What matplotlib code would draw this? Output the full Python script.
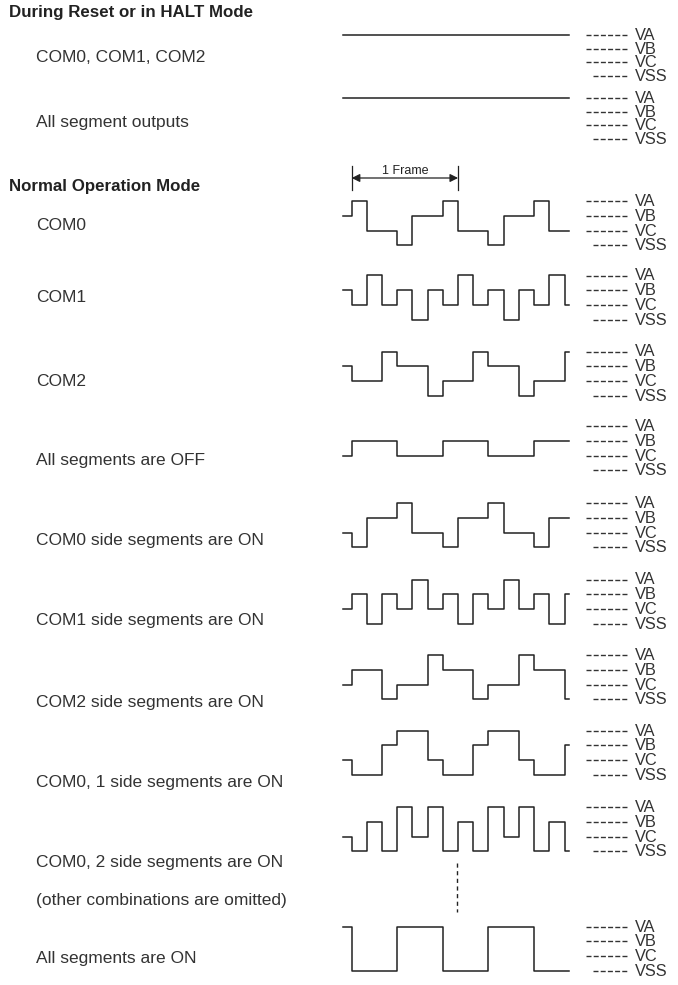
import matplotlib
matplotlib.use("Agg")
import matplotlib.pyplot as plt

plt.rcParams['font.family'] = ['Liberation Sans', 'DejaVu Sans']

# level names, lowest first
levels = ['VSS', 'VC', 'VB', 'VA']

# row captions on the left
reset_title = 'During Reset or in HALT Mode'
normal_title = 'Normal Operation Mode'
reset_labels = ['COM0, COM1, COM2', 'All segment outputs']
reset_levels = ['VA', 'VA']
row_labels = [
    'COM0', 'COM1', 'COM2', 'All segments are OFF',
    'COM0 side segments are ON', 'COM1 side segments are ON',
    'COM2 side segments are ON', 'COM0, 1 side segments are ON',
    'COM0, 2 side segments are ON', 'All segments are ON',
]
omitted_label = '(other combinations are omitted)'
frame_label = '1 Frame'

# level before slot 0, then the level in each time slot
lead = ['VB', 'VB', 'VB', 'VC', 'VC', 'VC', 'VC', 'VC', 'VC', 'VA']
slots = [
    ['VA', 'VC', 'VC', 'VSS', 'VB', 'VB', 'VA', 'VC', 'VC', 'VSS', 'VB', 'VB', 'VA', 'VC', 'VC'],
    ['VC', 'VA', 'VC', 'VB', 'VSS', 'VB', 'VC', 'VA', 'VC', 'VB', 'VSS', 'VB', 'VC', 'VA', 'VC'],
    ['VC', 'VC', 'VA', 'VB', 'VB', 'VSS', 'VC', 'VC', 'VA', 'VB', 'VB', 'VSS', 'VC', 'VC', 'VA'],
    ['VB', 'VB', 'VB', 'VC', 'VC', 'VC', 'VB', 'VB', 'VB', 'VC', 'VC', 'VC', 'VB', 'VB', 'VB'],
    ['VSS', 'VB', 'VB', 'VA', 'VC', 'VC', 'VSS', 'VB', 'VB', 'VA', 'VC', 'VC', 'VSS', 'VB', 'VB'],
    ['VB', 'VSS', 'VB', 'VC', 'VA', 'VC', 'VB', 'VSS', 'VB', 'VC', 'VA', 'VC', 'VB', 'VSS', 'VB'],
    ['VB', 'VB', 'VSS', 'VC', 'VC', 'VA', 'VB', 'VB', 'VSS', 'VC', 'VC', 'VA', 'VB', 'VB', 'VSS'],
    ['VSS', 'VSS', 'VB', 'VA', 'VA', 'VC', 'VSS', 'VSS', 'VB', 'VA', 'VA', 'VC', 'VSS', 'VSS', 'VB'],
    ['VSS', 'VB', 'VSS', 'VA', 'VC', 'VA', 'VSS', 'VB', 'VSS', 'VA', 'VC', 'VA', 'VSS', 'VB', 'VSS'],
    ['VSS', 'VSS', 'VSS', 'VA', 'VA', 'VA', 'VSS', 'VSS', 'VSS', 'VA', 'VA', 'VA', 'VSS', 'VSS', 'VSS'],
]
frame_slots = 7  # arrow spans this many slots from slot 0

# layout (pixels)
W, H = 678, 985
X0, SLOT = 351.7, 15.2     # slot 0 start, slot width
T_LEAD, T_END = -0.55, 14.3
DY = 14.8
reset_top = [35, 98]
reset_dy = 13.6
row_top = [201, 275.5, 351.5, 426, 503, 579.5, 655, 730.5, 807, 926.5]
caption_y = [226, 298, 381, 460, 541, 621, 703, 783, 862, 958]
reset_caption_y = [57, 122]

fig = plt.figure(figsize=(W / 100, H / 100), dpi=100)
main = fig.add_axes([0, 0, 1, 1])
main.set_xlim(0, W)
main.set_ylim(H, 0)
main.axis('off')

lw = 1.1
ink = '#222222'
txt = '#333333'


def wave_axes(top, dy):
    # axes whose data coords are (slot, level index)
    left = X0 + SLOT * T_LEAD
    width = SLOT * (T_END - T_LEAD)
    bottom = top + 3 * dy
    ax = fig.add_axes([left / W, 1 - bottom / H, width / W, 3 * dy / H])
    ax.set_xlim(T_LEAD, T_END)
    ax.set_ylim(0, 3)
    ax.axis('off')
    return ax


def level_labels(top, dy):
    for i, name in enumerate(reversed(levels)):
        y = top + i * dy
        x_start = 592.5 if name == 'VSS' else 585.5
        main.plot([x_start, 626.5], [y, y], color=txt, lw=1.0,
                  linestyle=(0, (3.6, 1.58)))
        main.text(635, y + 0.5, name, fontsize=11.8, va='center', ha='left', color=txt)


# titles and captions
main.text(9, 13, reset_title, fontsize=12.2, fontweight='bold', va='center', color=ink)
main.text(9, 186, normal_title, fontsize=12.2, fontweight='bold', va='center', color=ink)
for lab, y in zip(reset_labels, reset_caption_y):
    main.text(36, y, lab, fontsize=12.5, va='center', color=txt)
for lab, y in zip(row_labels, caption_y):
    main.text(36, y, lab, fontsize=12.5, va='center', color=txt)
main.text(36, 900, omitted_label, fontsize=12.5, va='center', color=txt)

# reset / halt rows: flat lines
for top, lv in zip(reset_top, reset_levels):
    ax = wave_axes(top, reset_dy)
    k = levels.index(lv)
    ax.plot([T_LEAD, T_END], [k, k], color=ink, lw=lw, clip_on=False)
    level_labels(top, reset_dy)

# normal operation waveforms
com0_ax = None
for top, ld, seq in zip(row_top, lead, slots):
    ax = wave_axes(top, DY)
    xs = [T_LEAD] + list(range(len(seq))) + [T_END]
    ys = [levels.index(ld)] + [levels.index(s) for s in seq] + [levels.index(seq[-1])]
    ax.step(xs, ys, where='post', color=ink, lw=lw, clip_on=False)
    level_labels(top, DY)
    if com0_ax is None:
        com0_ax = ax

# 1 frame marker above COM0
y_arrow = 3 + (201 - 178) / DY
com0_ax.annotate('', xy=(0, y_arrow), xytext=(frame_slots, y_arrow),
                 arrowprops=dict(arrowstyle='<|-|>', color=ink, lw=0.9,
                                 shrinkA=0, shrinkB=0, mutation_scale=12),
                 annotation_clip=False)
for t in (0, frame_slots):
    com0_ax.plot([t, t], [3 + (201 - 190) / DY, 3 + (201 - 166) / DY],
                 color=ink, lw=0.9, clip_on=False)
com0_ax.text(frame_slots / 2, 3 + (201 - 171) / DY, frame_label, fontsize=9,
             ha='center', va='center', color=ink, clip_on=False)

# dotted continuation line
main.plot([456.5, 456.5], [863, 912], color=ink, lw=1.0, linestyle=(0, (3, 2.5)))

fig.savefig('out.png', dpi=100, facecolor='white')
